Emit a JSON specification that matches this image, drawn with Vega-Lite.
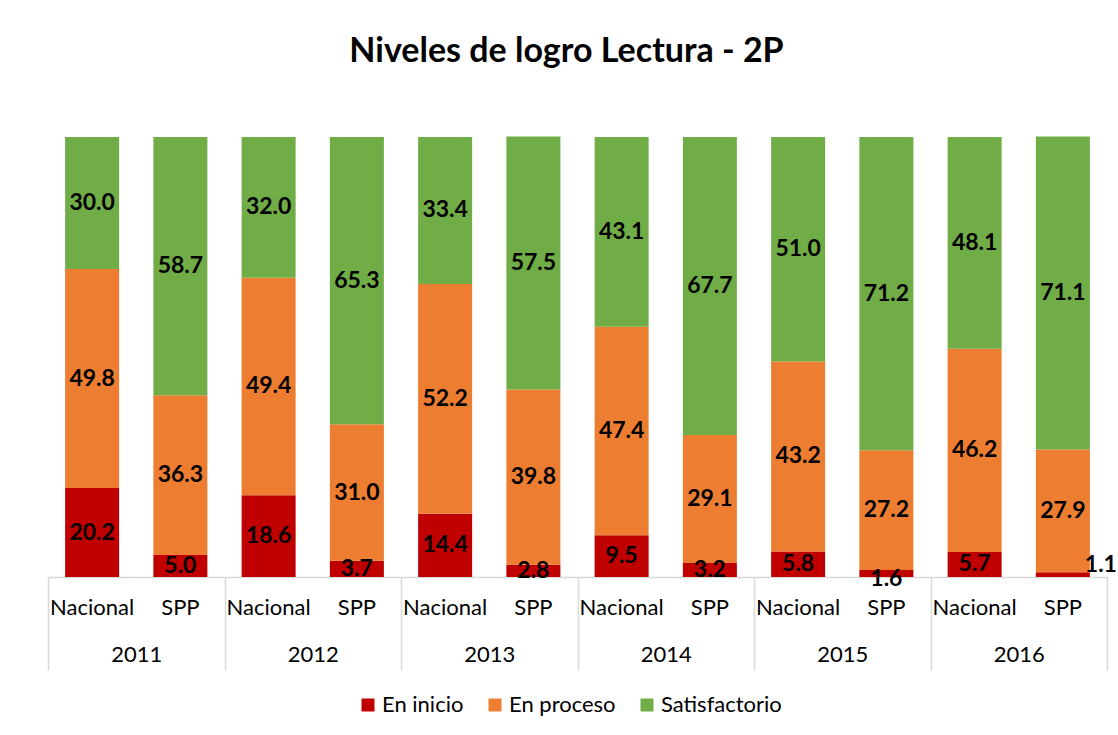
{
  "$schema": "https://vega.github.io/schema/vega-lite/v6.json",
  "autosize": {"type": "none"},
  "padding": {"left": 48, "top": 137, "right": 11, "bottom": 158},
  "width": 1059,
  "height": 440,
  "background": "white",
  "title": {
    "text": "Niveles de logro Lectura - 2P",
    "font": "Lato",
    "fontSize": 34,
    "fontWeight": "bold",
    "color": "black",
    "anchor": "middle",
    "baseline": "alphabetic",
    "offset": 41,
    "dx": -11
  },
  "config": {
    "view": {"stroke": null},
    "font": "Lato"
  },
  "data": {
    "values": [
      {"year": "2011", "type": "Nacional", "level": "En inicio", "value": 20.2},
      {"year": "2011", "type": "Nacional", "level": "En proceso", "value": 49.8},
      {"year": "2011", "type": "Nacional", "level": "Satisfactorio", "value": 30.0},
      {"year": "2011", "type": "SPP", "level": "En inicio", "value": 5.0},
      {"year": "2011", "type": "SPP", "level": "En proceso", "value": 36.3},
      {"year": "2011", "type": "SPP", "level": "Satisfactorio", "value": 58.7},
      {"year": "2012", "type": "Nacional", "level": "En inicio", "value": 18.6},
      {"year": "2012", "type": "Nacional", "level": "En proceso", "value": 49.4},
      {"year": "2012", "type": "Nacional", "level": "Satisfactorio", "value": 32.0},
      {"year": "2012", "type": "SPP", "level": "En inicio", "value": 3.7},
      {"year": "2012", "type": "SPP", "level": "En proceso", "value": 31.0},
      {"year": "2012", "type": "SPP", "level": "Satisfactorio", "value": 65.3},
      {"year": "2013", "type": "Nacional", "level": "En inicio", "value": 14.4},
      {"year": "2013", "type": "Nacional", "level": "En proceso", "value": 52.2},
      {"year": "2013", "type": "Nacional", "level": "Satisfactorio", "value": 33.4},
      {"year": "2013", "type": "SPP", "level": "En inicio", "value": 2.8},
      {"year": "2013", "type": "SPP", "level": "En proceso", "value": 39.8},
      {"year": "2013", "type": "SPP", "level": "Satisfactorio", "value": 57.5},
      {"year": "2014", "type": "Nacional", "level": "En inicio", "value": 9.5},
      {"year": "2014", "type": "Nacional", "level": "En proceso", "value": 47.4},
      {"year": "2014", "type": "Nacional", "level": "Satisfactorio", "value": 43.1},
      {"year": "2014", "type": "SPP", "level": "En inicio", "value": 3.2},
      {"year": "2014", "type": "SPP", "level": "En proceso", "value": 29.1},
      {"year": "2014", "type": "SPP", "level": "Satisfactorio", "value": 67.7},
      {"year": "2015", "type": "Nacional", "level": "En inicio", "value": 5.8},
      {"year": "2015", "type": "Nacional", "level": "En proceso", "value": 43.2},
      {"year": "2015", "type": "Nacional", "level": "Satisfactorio", "value": 51.0},
      {"year": "2015", "type": "SPP", "level": "En inicio", "value": 1.6},
      {"year": "2015", "type": "SPP", "level": "En proceso", "value": 27.2},
      {"year": "2015", "type": "SPP", "level": "Satisfactorio", "value": 71.2},
      {"year": "2016", "type": "Nacional", "level": "En inicio", "value": 5.7},
      {"year": "2016", "type": "Nacional", "level": "En proceso", "value": 46.2},
      {"year": "2016", "type": "Nacional", "level": "Satisfactorio", "value": 48.1},
      {"year": "2016", "type": "SPP", "level": "En inicio", "value": 1.1},
      {"year": "2016", "type": "SPP", "level": "En proceso", "value": 27.9},
      {"year": "2016", "type": "SPP", "level": "Satisfactorio", "value": 71.1}
    ]
  },
  "transform": [
    {"calculate": "datum.year + ' ' + datum.type", "as": "slot"},
    {"stack": "value", "groupby": ["slot"], "sort": [{"field": "level", "order": "ascending"}], "as": ["y0", "y1"]},
    {"calculate": "(datum.y0 + datum.y1) / 2", "as": "mid"}
  ],
  "layer": [
    {
      "layer": [
        {
          "mark": {"type": "bar"},
          "encoding": {
            "x": {
              "field": "slot", "type": "nominal", "sort": "ascending",
              "scale": {"paddingInner": 0.388, "paddingOuter": 0.194},
              "axis": {
                "title": null, "labelAngle": 0, "ticks": false, "orient": "bottom",
                "labelExpr": "split(datum.label, ' ')[1]",
                "labelFont": "Lato", "labelFontSize": 22, "labelColor": "black",
                "labelPadding": 20, "domainColor": "#d9d9d9", "domainWidth": 1.5
              }
            },
            "y": {
              "field": "y0", "type": "quantitative",
              "scale": {"domain": [0, 100], "nice": false},
              "axis": null
            },
            "y2": {"field": "y1"},
            "color": {
              "field": "level", "type": "nominal",
              "scale": {"domain": ["En inicio", "En proceso", "Satisfactorio"], "range": ["#C00000", "#ED7D31", "#70AD47"]},
              "legend": {
                "title": null, "orient": "none", "direction": "horizontal",
                "legendX": 309, "legendY": 557,
                "symbolType": "square", "symbolSize": 169, "symbolStrokeWidth": 0,
                "symbolOpacity": 1,
                "labelFont": "Lato", "labelFontSize": 22, "labelColor": "black",
                "labelOffset": 3, "columnPadding": 20
              }
            }
          }
        },
        {
          "transform": [{"filter": "datum.value >= 2"}],
          "mark": {"type": "text", "font": "Lato", "fontSize": 23, "fontWeight": "bold", "color": "black", "baseline": "middle"},
          "encoding": {
            "x": {"field": "slot", "type": "nominal", "sort": "ascending"},
            "y": {"field": "mid", "type": "quantitative"},
            "text": {"field": "value", "type": "quantitative", "format": ".1f"}
          }
        },
        {
          "transform": [{"filter": "datum.value < 2 && datum.year == '2015'"}],
          "mark": {"type": "text", "font": "Lato", "fontSize": 23, "fontWeight": "bold", "color": "black", "baseline": "middle", "dy": 6},
          "encoding": {
            "x": {"field": "slot", "type": "nominal", "sort": "ascending"},
            "y": {"field": "mid", "type": "quantitative"},
            "text": {"field": "value", "type": "quantitative", "format": ".1f"}
          }
        },
        {
          "transform": [{"filter": "datum.value < 2 && datum.year == '2016'"}],
          "mark": {"type": "text", "font": "Lato", "fontSize": 23, "fontWeight": "bold", "color": "black", "baseline": "middle", "dx": 38, "dy": -10},
          "encoding": {
            "x": {"field": "slot", "type": "nominal", "sort": "ascending"},
            "y": {"field": "mid", "type": "quantitative"},
            "text": {"field": "value", "type": "quantitative", "format": ".1f"}
          }
        }
      ]
    },
    {
      "mark": {"type": "point", "opacity": 0},
      "encoding": {
        "x": {
          "field": "year", "type": "nominal",
          "scale": {"type": "band", "paddingInner": 0, "paddingOuter": 0},
          "axis": {
            "orient": "bottom", "title": null, "labelAngle": 0, "domain": false,
            "ticks": true, "tickBand": "extent", "tickSize": 93,
            "tickColor": "#d9d9d9", "tickWidth": 1.5,
            "labelPadding": -26, "labelFont": "Lato", "labelFontSize": 22,
            "labelColor": "black", "grid": false
          }
        }
      }
    }
  ],
  "resolve": {"scale": {"x": "independent"}, "axis": {"x": "independent"}}
}
